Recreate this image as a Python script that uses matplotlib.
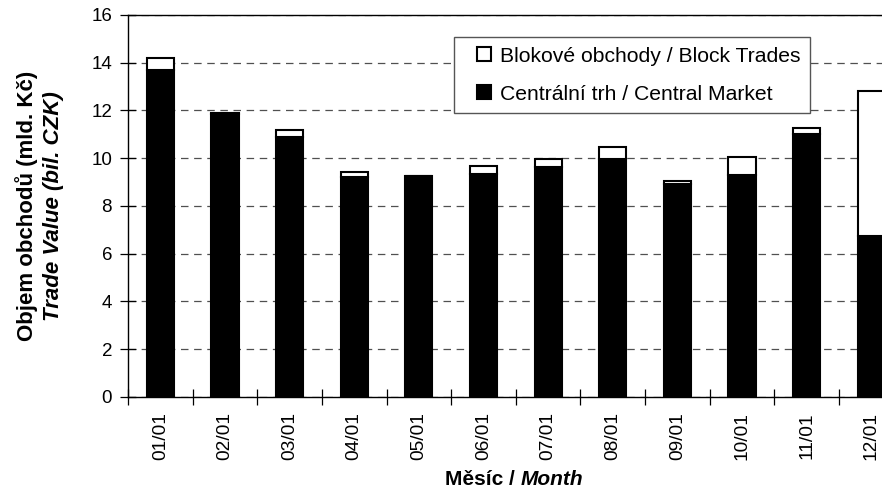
import matplotlib
matplotlib.use("Agg")
import matplotlib.pyplot as plt
from matplotlib.lines import Line2D
import numpy as np

plt.rcParams['font.family'] = ['Liberation Sans', 'DejaVu Sans']

# monthly trade value, bil. CZK
months = ['01/01', '02/01', '03/01', '04/01', '05/01', '06/01',
          '07/01', '08/01', '09/01', '10/01', '11/01', '12/01']
central_market = [13.70, 11.85, 10.90, 9.20, 9.25, 9.36, 9.62, 9.96, 8.91, 9.29, 11.03, 6.75]
block_trades = [0.48, 0.03, 0.27, 0.23, 0.00, 0.31, 0.36, 0.51, 0.14, 0.76, 0.25, 6.07]
y_ticks = [0, 2, 4, 6, 8, 10, 12, 14, 16]


def main():
    fig = plt.figure(figsize=(8.82, 4.96), dpi=100)
    # plot area runs past the right edge of the picture, as in the original
    ax = fig.add_axes([0.1451, 0.1996, 0.8794, 0.7702])

    x = np.arange(len(months))
    width = 0.42
    ax.bar(x, central_market, width, color='black', edgecolor='black',
           linewidth=1.5, zorder=3)
    ax.bar(x, block_trades, width, bottom=central_market, color='white',
           edgecolor='black', linewidth=1.5, zorder=3)

    ax.set_xlim(-0.5, len(months) - 0.5)
    ax.set_ylim(0, 16)

    # grid
    ax.set_axisbelow(True)
    ax.yaxis.grid(True, color='#505050', linewidth=0.9, linestyle=(0, (6, 4.5)))
    ax.xaxis.grid(False)

    # spines
    for side in ['left', 'top', 'bottom', 'right']:
        ax.spines[side].set_color('black')
        ax.spines[side].set_linewidth(1.0)

    # y ticks
    ax.set_yticks(y_ticks)
    ax.set_yticklabels([str(v) for v in y_ticks], fontsize=13.5)
    ax.tick_params(axis='y', direction='inout', length=11, width=0.9, pad=6)

    # x: labels under bars, tick marks between categories
    ax.set_xticks(x)
    ax.set_xticklabels(months, rotation=90, fontsize=13.8)
    ax.set_xticks(np.arange(len(months) + 1) - 0.5, minor=True)
    ax.tick_params(axis='x', which='major', length=0, pad=11)
    ax.tick_params(axis='x', which='minor', direction='inout', length=12, width=0.9)

    # axis titles (bold / bold italic mix)
    fig.text(0.030, 0.585, 'Objem obchodů (mld. Kč)', rotation=90, fontsize=16,
             fontweight='bold', ha='center', va='center')
    fig.text(0.061, 0.585, 'Trade Value (bil. CZK)', rotation=90, fontsize=16,
             fontweight='bold', fontstyle='italic', ha='center', va='center')
    fig.text(0.5905, 0.034, 'Měsíc / ', fontsize=15, fontweight='bold',
             ha='right', va='center')
    fig.text(0.5905, 0.034, 'Month', fontsize=15, fontweight='bold',
             fontstyle='italic', ha='left', va='center')

    h_block = Line2D([], [], linestyle='none', marker='s', markersize=10,
                     markerfacecolor='white', markeredgecolor='black', markeredgewidth=1.5)
    h_central = Line2D([], [], linestyle='none', marker='s', markersize=10,
                       markerfacecolor='black', markeredgecolor='black', markeredgewidth=1.5)
    leg = ax.legend([h_block, h_central],
                    ['Blokové obchody / Block Trades', 'Centrální trh / Central Market'],
                    loc='upper left', bbox_to_anchor=(454 / 882, 1 - 37 / 496),
                    bbox_transform=fig.transFigure, borderaxespad=0,
                    fontsize=15.2, frameon=True, fancybox=False, framealpha=1,
                    handlelength=1.9, handletextpad=-0.15,
                    labelspacing=0.9, borderpad=0.45)
    leg.get_frame().set_edgecolor('#555555')
    leg.get_frame().set_linewidth(1.0)
    leg.set_zorder(5)

    fig.savefig('out.png', dpi=100)


if __name__ == "__main__":
    main()
